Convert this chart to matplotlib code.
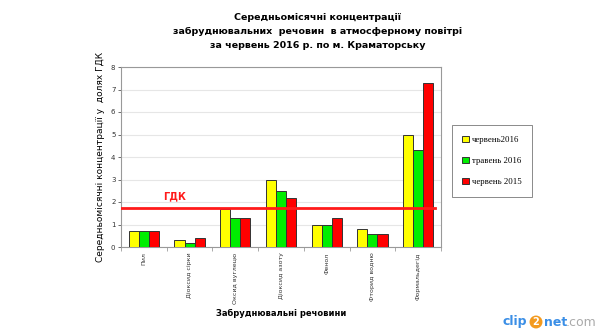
import matplotlib

matplotlib.use("Agg")

import matplotlib.pyplot as plt
import numpy as np

categories = ["Пил", "Діоксид сірки", "Оксид вуглецю", "Діоксид азоту",
              "Фенол", "Фторид водню", "Формальдегід"]
june_2016 = [0.7, 0.3, 1.7, 3.0, 1.0, 0.8, 5.0]
may_2016 = [0.7, 0.2, 1.3, 2.5, 1.0, 0.6, 4.3]
june_2015 = [0.7, 0.4, 1.3, 2.2, 1.3, 0.6, 7.3]
series_names = ["червень2016", "травень 2016", "червень 2015"]
gdk_level = 1.75

W, H = 611, 333
fig = plt.figure(figsize=(W / 100, H / 100), dpi=100)
fig.patch.set_facecolor("white")

ax = fig.add_axes([121 / W, 1 - 247 / H, 320 / W, 180 / H])
x = np.arange(len(categories))
bw = 0.22
colors = ["#ffff00", "#00ee00", "#ff0000"]
for i, (vals, c, name) in enumerate(zip([june_2016, may_2016, june_2015], colors, series_names)):
    ax.bar(x + (i - 1) * bw, vals, width=bw, color=c, edgecolor="#333333",
           linewidth=0.7, label=name, zorder=3)

ax.axhline(gdk_level, xmin=0, xmax=0.98, color="#ff1a1a", linewidth=2, zorder=4)
ax.text(0.68, gdk_level + 0.3, "ГДК", color="#ff1a1a", fontsize=7, fontweight="bold",
        ha="center", va="bottom")

ax.set_xlim(-0.5, len(categories) - 0.5)
ax.set_ylim(0, 8)
ax.set_yticks(range(0, 9))
ax.yaxis.grid(True, color="#e6e6e6", linewidth=0.8, zorder=0)
ax.set_axisbelow(True)
ax.tick_params(axis="y", labelsize=5, length=2, width=0.5, pad=2, colors="#333333")
ax.set_xticks(x)
ax.set_xticklabels(categories, rotation=90, fontsize=4.5, va="top", color="#333333")
ax.set_xticks(np.arange(-0.5, len(categories)), minor=True)
ax.tick_params(axis="x", which="major", length=0, pad=4)
ax.tick_params(axis="x", which="minor", length=3, width=0.5, color="#888888")
for s in ax.spines.values():
    s.set_color("#999999")
    s.set_linewidth(0.8)

ax.set_ylabel("Середньомісячні концентрації у  долях ГДК", fontsize=6.5, labelpad=4)
ax.set_xlabel("Забруднювальні речовини", fontsize=6, fontweight="bold", labelpad=4)

leg = fig.legend(loc="upper left", bbox_to_anchor=(452 / W, 1 - 125 / H),
                 frameon=True, fancybox=False, edgecolor="#555555", borderaxespad=0,
                 handlelength=0.8, handleheight=0.8, labelspacing=1.45,
                 borderpad=1.2, handletextpad=0.3, prop={"family": "Liberation Serif", "size": 6.3})
leg.get_frame().set_linewidth(0.6)

title_lines = ["Середньомісячні концентрації",
               "забруднювальних  речовин  в атмосферному повітрі",
               "за червень 2016 р. по м. Краматорську"]
for k, line in enumerate(title_lines):
    fig.text(318 / W, 1 - (17 + 14 * k) / H, line, ha="center", va="center",
             fontsize=6.8, fontweight="bold")

# watermark in the corner
wy = 1 - 322 / H
fig.text(527 / W, wy, "clip", color="#3a8ee6", fontsize=9, ha="right", va="center",
         fontweight="bold")
fig.text(536 / W, wy, "2", color="white", fontsize=7, ha="center", va="center",
         fontweight="bold",
         bbox=dict(boxstyle="circle,pad=0.15", fc="#f39a1e", ec="none"))
fig.text(544 / W, wy, "net", color="#3a8ee6", fontsize=9, ha="left", va="center",
         fontweight="bold")
fig.text(566 / W, wy, ".com", color="#aaaaaa", fontsize=9, ha="left", va="center")

fig.savefig("out.png", dpi=100, facecolor="white")
